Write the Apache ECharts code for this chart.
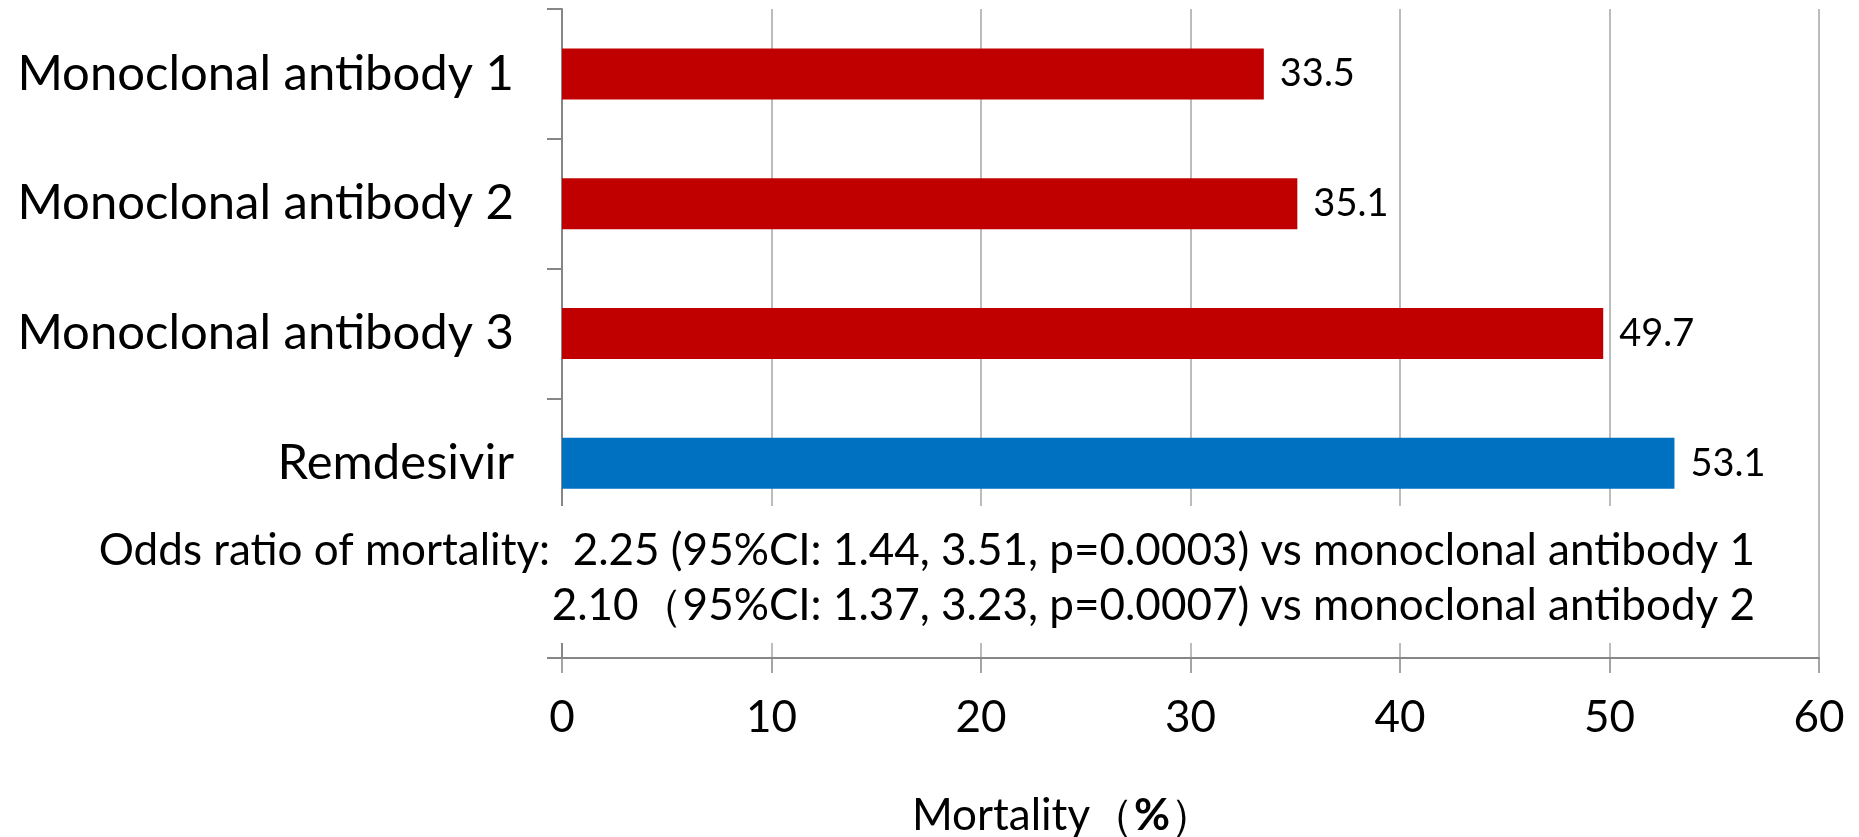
<!DOCTYPE html>
<html>
<head>
<meta charset="utf-8">
<script src="https://cdn.jsdelivr.net/npm/echarts@6/dist/echarts.min.js"></script>
<style>
html,body{margin:0;padding:0;background:#fff;}
#chart{width:1859px;height:837px;}
</style>
</head>
<body>
<div id="chart"></div>
<script>
// ---- data ----
const categories = ['Monoclonal antibody 1', 'Monoclonal antibody 2', 'Monoclonal antibody 3', 'Remdesivir', ''];
const mortality = [33.5, 35.1, 49.7, 53.1, '-'];
const xMin = 0, xMax = 60, xStep = 10;
const xAxisTitle = 'Mortality（%）';
const oddsLines = [
  'Odds ratio of mortality:  2.25 (95%CI: 1.44, 3.51, p=0.0003) vs monoclonal antibody 1',
  '2.10（95%CI: 1.37, 3.23, p=0.0007) vs monoclonal antibody 2'
];
const referenceDrug = 'Remdesivir';

// ---- styles ----
const FONT = 'Lato, "Noto Sans", sans-serif';
const RED = '#C00000', BLUE = '#0070C0';
const AXIS = '#868686', GRID = '#A6A6A6';

const titleRich = xAxisTitle.split('%').map(s => s ? '{a|' + s + '}' : '').join('{b|%}');

const chart = echarts.init(document.getElementById('chart'), null, {renderer: 'canvas'});
chart.setOption({
  animation: false,
  backgroundColor: '#fff',
  grid: {left: 562, right: 40, top: 9, bottom: 179, containLabel: false},
  xAxis: {
    type: 'value', min: xMin, max: xMax, interval: xStep,
    axisLine: {show: true, lineStyle: {color: AXIS, width: 2}},
    axisTick: {show: true, length: 15, lineStyle: {color: AXIS, width: 1.5}},
    splitLine: {show: true, lineStyle: {color: GRID, width: 1.5}},
    axisLabel: {color: '#000', fontFamily: FONT, fontSize: 44, margin: 38}
  },
  yAxis: {
    type: 'category', inverse: true, data: categories,
    axisLine: {show: true, lineStyle: {color: AXIS, width: 2}},
    axisTick: {show: true, length: 15, interval: 0, lineStyle: {color: AXIS, width: 2}},
    axisLabel: {color: '#000', fontFamily: FONT, fontSize: 49, margin: 48, interval: 0}
  },
  series: [{
    type: 'bar',
    data: mortality,
    barWidth: 51,
    itemStyle: {color: p => p.name === referenceDrug ? BLUE : RED},
    label: {show: true, position: 'right', distance: 16, color: '#000',
            fontFamily: FONT, fontSize: 38, formatter: p => p.value.toFixed(1)}
  }],
  graphic: [
    {type: 'rect', shape: {x: 60, y: 506, width: 1732, height: 137}, style: {fill: '#fff'}, z: 100},
    {type: 'text', x: 1755, y: 551, z: 101,
     style: {text: oddsLines[0], align: 'right', verticalAlign: 'middle', fill: '#000', font: '44px ' + FONT}},
    {type: 'text', x: 1755, y: 606, z: 101,
     style: {text: oddsLines[1], align: 'right', verticalAlign: 'middle', fill: '#000', font: '44px ' + FONT}},
    {type: 'text', x: 1063, y: 816, z: 101,
     style: {text: titleRich, align: 'center', verticalAlign: 'middle', fill: '#000',
             rich: {a: {fontFamily: FONT, fontSize: 44, fill: '#000'},
                    b: {fontFamily: FONT, fontSize: 44, fontWeight: 'bold', fill: '#000'}}}}
  ]
});
</script>
</body>
</html>
